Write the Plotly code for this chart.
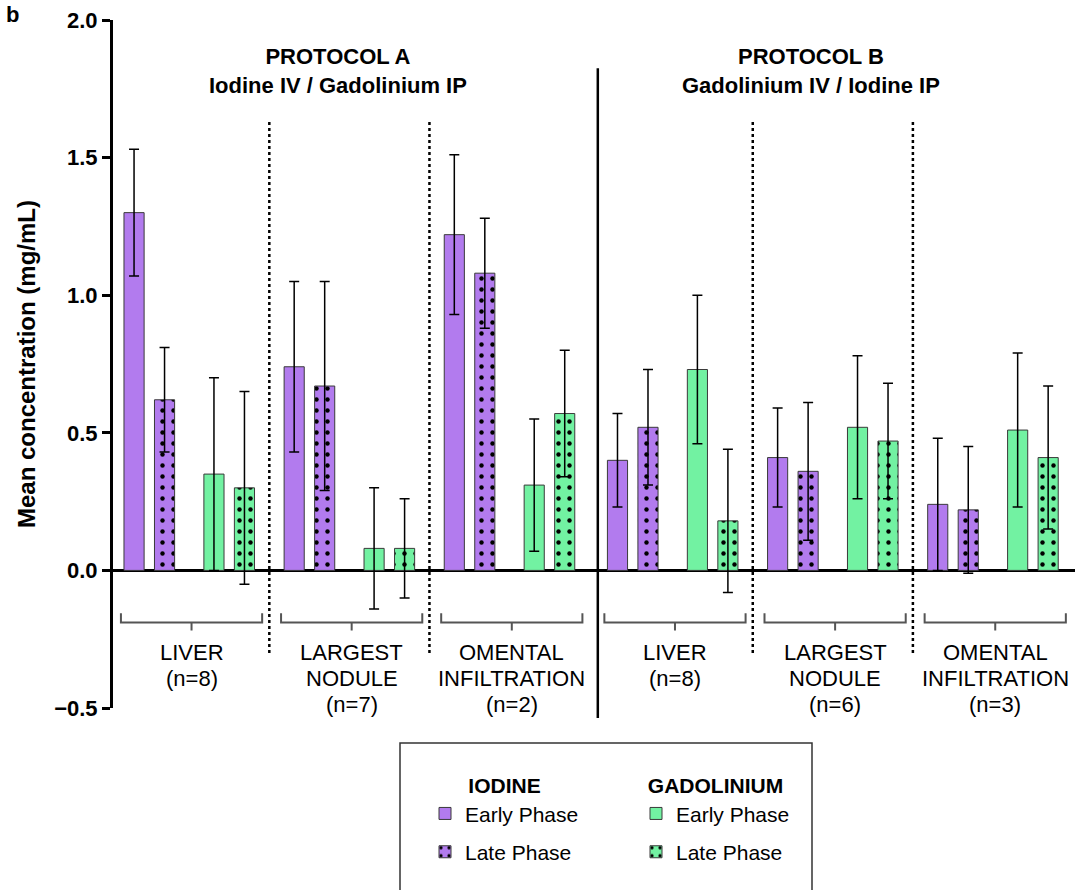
import plotly.graph_objects as go

# ---------------- data ----------------
categories = ["LIVER<br>(n=8)", "LARGEST<br>NODULE<br>(n=7)", "OMENTAL<br>INFILTRATION<br>(n=2)",
              "LIVER<br>(n=8)", "LARGEST<br>NODULE<br>(n=6)", "OMENTAL<br>INFILTRATION<br>(n=3)"]
protocols = ["PROTOCOL A", "PROTOCOL B"]
protocol_subtitles = ["Iodine IV / Gadolinium IP", "Gadolinium IV / Iodine IP"]

iodine_early = [1.30, 0.74, 1.22, 0.40, 0.41, 0.24]
iodine_early_sd = [0.23, 0.31, 0.29, 0.17, 0.18, 0.24]
iodine_late = [0.62, 0.67, 1.08, 0.52, 0.36, 0.22]
iodine_late_sd = [0.19, 0.38, 0.20, 0.21, 0.25, 0.23]
gad_early = [0.35, 0.08, 0.31, 0.73, 0.52, 0.51]
gad_early_sd = [0.35, 0.22, 0.24, 0.27, 0.26, 0.28]
gad_late = [0.30, 0.08, 0.57, 0.18, 0.47, 0.41]
gad_late_sd = [0.35, 0.18, 0.23, 0.26, 0.21, 0.26]

y_ticks = [-0.5, 0.0, 0.5, 1.0, 1.5, 2.0]

# ---------------- styling / layout helpers ----------------
PURPLE = "#B27BEE"
GREEN = "#72F2A2"
FONT = "Liberation Sans, Arial, sans-serif"

GROUP_STEP = 5.25
PROTO_SHIFT = 0.1
OFFSETS = [0.0, 1.0, 2.62, 3.62]
BAR_W = 0.66


def base(g):
    return g * GROUP_STEP + (PROTO_SHIFT if g >= 3 else 0.0)


def xs(series_idx):
    return [base(g) + OFFSETS[series_idx] for g in range(len(categories))]


series = [
    ("Early Phase", iodine_early, iodine_early_sd, PURPLE, False, "legend"),
    ("Late Phase", iodine_late, iodine_late_sd, PURPLE, True, "legend"),
    ("Early Phase", gad_early, gad_early_sd, GREEN, False, "legend2"),
    ("Late Phase", gad_late, gad_late_sd, GREEN, True, "legend2"),
]

fig = go.Figure()
for i, (name, vals, sds, col, dotted, leg) in enumerate(series):
    marker = dict(color=col, line=dict(color="#3a3a3a", width=1))
    if dotted:
        marker["pattern"] = dict(shape=".", fgcolor="black", bgcolor=col,
                                 size=11, solidity=0.13, fillmode="replace")
    fig.add_trace(go.Bar(
        x=xs(i), y=vals, width=BAR_W, name=name, marker=marker,
        error_y=dict(type="data", array=sds, visible=True, color="black",
                     thickness=1.5, width=5),
        legend=leg, legendgroup=f"g{i}",
    ))

# ---------------- shapes ----------------
shapes = []
y_line, y_end, y_mid = -0.189, -0.156, -0.218
LABEL_Y0, LABEL_STEP = -0.298, 0.0945
for g in range(len(categories)):
    xl = base(g) - 0.43
    xr = base(g) + 4.2
    xm = (xl + xr) / 2
    shapes.append(dict(type="path", xref="x", yref="y",
                       path=f"M{xl},{y_end} L{xl},{y_line} L{xr},{y_line} L{xr},{y_end} "
                            f"M{xm},{y_line} L{xm},{y_mid}",
                       line=dict(color="#555555", width=2)))
    for k, line_txt in enumerate(categories[g].split("<br>")):
        fig.add_annotation(x=xm, y=LABEL_Y0 - k * LABEL_STEP, xref="x", yref="y", text=line_txt,
                           showarrow=False, yanchor="middle", xanchor="center",
                           font=dict(family=FONT, size=22, color="black"))

# dotted separators inside each protocol, solid divider between protocols
for g in [0, 1, 3, 4]:
    xsep = (base(g) + OFFSETS[-1] + base(g + 1)) / 2
    shapes.append(dict(type="line", xref="x", yref="y", x0=xsep, x1=xsep,
                       y0=-0.30, y1=1.63, line=dict(color="black", width=2.5, dash="dot")))
xdiv = (base(2) + OFFSETS[-1] + base(3)) / 2 + 0.22
shapes.append(dict(type="line", xref="x", yref="paper", x0=xdiv, x1=xdiv,
                   y0=-0.0145, y1=0.930, line=dict(color="black", width=2.5)))

# legend box (bottom runs off the page)
shapes.append(dict(type="rect", xref="paper", yref="paper",
                   x0=(400 - 113) / 962, x1=(812 - 113) / 962,
                   y0=(708 - 905) / 688, y1=(708 - 743) / 688,
                   line=dict(color="#333333", width=1.5), fillcolor="rgba(0,0,0,0)"))

# protocol headings
for px, title, sub in zip([6.69, 22.2], protocols, protocol_subtitles):
    fig.add_annotation(x=px, y=(708 - 71.5) / 688, xref="x", yref="paper",
                       text=f"<b>{title}</b><br><b>{sub}</b>",
                       showarrow=False, yanchor="middle",
                       font=dict(family=FONT, size=22, color="black"))

# panel letter
fig.add_annotation(x=(12 - 113) / 962, y=1.0, yshift=6, xref="paper", yref="paper",
                   text="<b>b</b>", showarrow=False, xanchor="center", yanchor="middle",
                   font=dict(family=FONT, size=22, color="black"))

fig.update_layout(
    width=1079, height=890,
    margin=dict(l=113, r=4, t=20, b=182),
    paper_bgcolor="white", plot_bgcolor="white",
    font=dict(family=FONT, color="black"),
    barmode="overlay",
    shapes=shapes,
    showlegend=True,
    legend=dict(x=(425 - 113) / 962, y=(708 - 766) / 688, xanchor="left", yanchor="top",
                title=dict(text="<b>IODINE</b>", side="top center",
                           font=dict(family=FONT, size=21, color="black")),
                font=dict(family=FONT, size=21, color="black"),
                bgcolor="rgba(0,0,0,0)", tracegroupgap=8),
    legend2=dict(x=(636 - 113) / 962, y=(708 - 766) / 688, xanchor="left", yanchor="top",
                 title=dict(text="<b>GADOLINIUM</b>", side="top center",
                            font=dict(family=FONT, size=21, color="black")),
                 font=dict(family=FONT, size=21, color="black"),
                 bgcolor="rgba(0,0,0,0)", tracegroupgap=8),
)

fig.update_xaxes(range=[-0.69, 30.85], showticklabels=False, showline=False,
                 showgrid=False, zeroline=False, ticks="", fixedrange=True)
fig.update_yaxes(range=[-0.5, 2.0], tickvals=y_ticks, tickformat=".1f",
                 showline=True, linewidth=3, linecolor="black", ticks="outside",
                 ticklen=8, tickwidth=2.5, tickcolor="black", showgrid=False,
                 zeroline=True, zerolinewidth=3, zerolinecolor="black",
                 layer="above traces", automargin=False,
                 tickfont=dict(family=FONT, size=22, color="black", weight="bold"),
                 title=dict(text="<b>Mean concentration (mg/mL)</b>", standoff=12,
                            font=dict(family=FONT, size=24, color="black")))

fig.write_html("out.html", config={"displayModeBar": False},
               post_script="document.body.style.margin='0';document.body.style.overflow='hidden';")
